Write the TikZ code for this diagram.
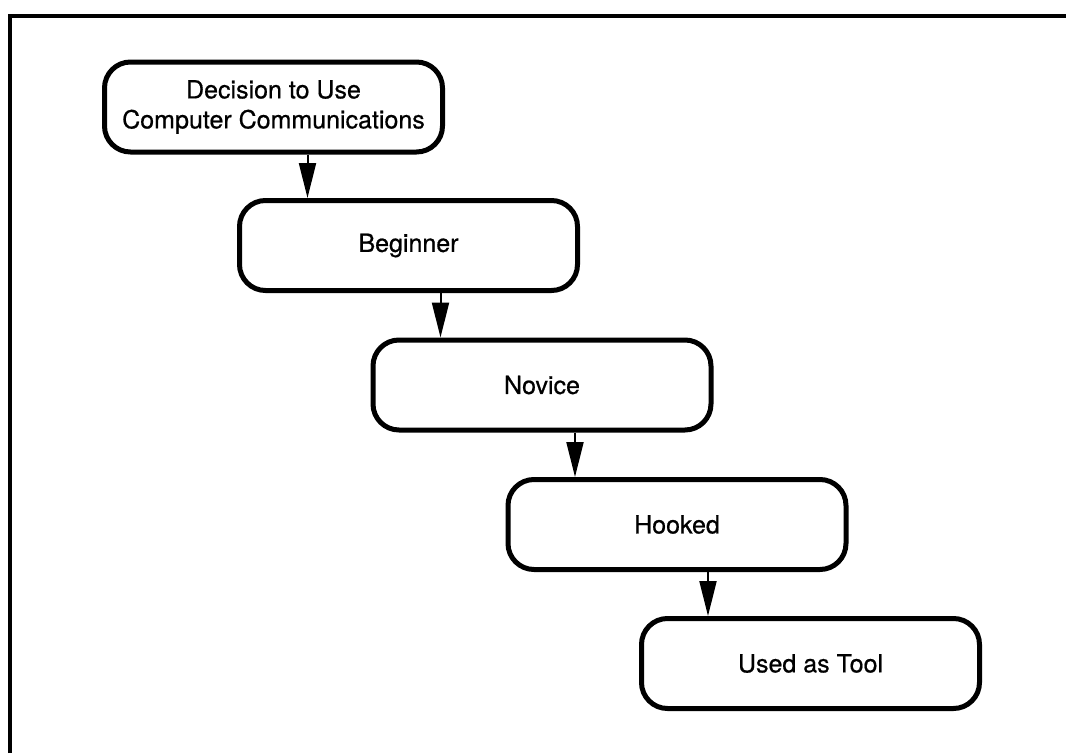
\documentclass[tikz,border=0pt]{standalone}
\usepackage{fontspec}
\setmainfont{TeX Gyre Heros}
\newfontfamily\stagefont{TeX Gyre Heros}[FakeBold=0.6]
\usetikzlibrary{arrows.meta}
\begin{document}
\begin{tikzpicture}[x=1pt,y=-1pt,
  stage/.style={draw=black, line width=5pt, rounded corners=26pt, minimum width=338pt, minimum height=90pt, inner sep=0pt, align=center, font=\stagefont\fontsize{25}{30}\selectfont},
  flow/.style={line width=2pt, -{Triangle[length=35pt,width=17pt]}},
  frame/.style={line width=3.5pt}]
\useasboundingbox (0,0) rectangle (1066,753);
\coordinate (fa) at (10,753);
\coordinate (fb) at (10,16);
\coordinate (fc) at (1066,16);
\draw[frame] (fa) -- (fb) -- (fc);
\node[stage] (D) at (273.5,107) {Decision to Use\\Computer Communications};
\node[stage] (B) at (408.5,245.5) {Beginner};
\node[stage] (N) at (542,385) {Novice};
\node[stage] (H) at (677,524.5) {Hooked};
\node[stage] (U) at (810.5,663.5) {Used as Tool};
\draw[flow] ([xshift=34pt]D.south) -- ([xshift=34pt]D.south |- B.north);
\draw[flow] ([xshift=32pt]B.south) -- ([xshift=32pt]B.south |- N.north);
\draw[flow] ([xshift=33pt]N.south) -- ([xshift=33pt]N.south |- H.north);
\draw[flow] ([xshift=31pt]H.south) -- ([xshift=31pt]H.south |- U.north);
\end{tikzpicture}
\end{document}
